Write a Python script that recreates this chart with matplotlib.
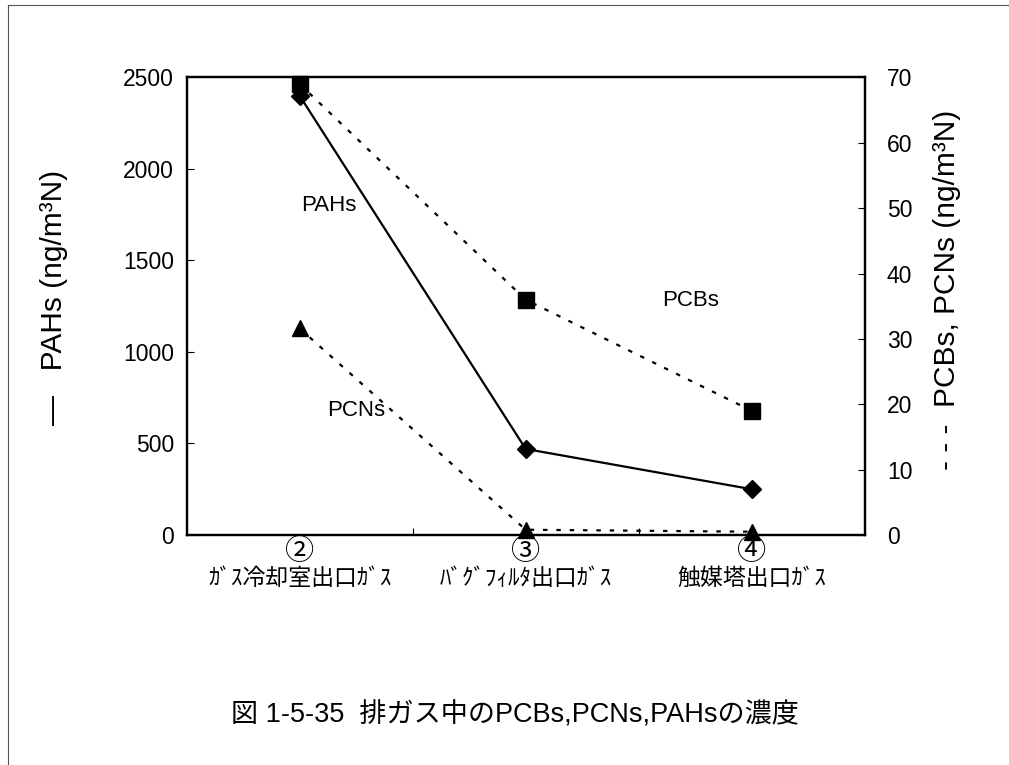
import numpy as np
import matplotlib
matplotlib.use('Agg')
import matplotlib.pyplot as plt
from matplotlib.lines import Line2D
from matplotlib.transforms import blended_transform_factory

plt.rcParams['font.family'] = ['Liberation Sans', 'Noto Sans CJK JP', 'DejaVu Sans']

# data
site_no = ['②', '③', '④']
sites = ['ｶﾞｽ冷却室出口ｶﾞｽ', 'ﾊﾞｸﾞﾌｨﾙﾀ出口ｶﾞｽ', '触媒塔出口ｶﾞｽ']
pahs = [2400, 470, 250]      # left axis
pcbs = [69, 36, 19]          # right axis
pcns = [31.6, 0.8, 0.5]      # right axis

fig = plt.figure(figsize=(10.09, 7.65), dpi=100)
ax = fig.add_axes([0.185, 0.3007, 0.672, 0.598])
ax2 = ax.twinx()

x = np.arange(len(sites)) + 0.5

ax.plot(x, pahs, color='black', lw=1.6, marker='D', markersize=9, zorder=3)
ax2.plot(x, pcbs, color='black', lw=1.6, ls=(0, (2, 4)), marker='s', markersize=12,
         clip_on=False, zorder=3)
ax2.plot(x, pcns, color='black', lw=1.6, ls=(0, (2, 4)), marker='^', markersize=12,
         clip_on=False, zorder=3)

ax.set_xlim(0, 3)
ax.set_ylim(0, 2500)
ax2.set_ylim(0, 70)
ax.set_yticks(np.arange(0, 2501, 500))
ax2.set_yticks(np.arange(0, 71, 10))

# category boundaries as inward major ticks, labels on minor ticks
ax.set_xticks([1, 2])
ax.set_xticklabels([])
ax.set_xticks(x, minor=True)
ax.set_xticklabels(sites, minor=True, fontsize=16.5,
                   family=['Noto Sans CJK JP', 'DejaVu Sans'])
ax.tick_params(axis='x', which='minor', length=0, pad=23)
ax.tick_params(axis='x', which='major', direction='in', length=5)
ax.tick_params(axis='y', direction='in', length=5, labelsize=16.5, pad=9)
ax2.tick_params(axis='y', direction='in', length=5, labelsize=16.5, pad=16)

# circled site numbers above the names
tr = blended_transform_factory(ax.transData, ax.transAxes)
for xi, n in zip(x, site_no):
    ax.text(xi, -0.038, n, transform=tr, fontsize=21, ha='center', va='center',
            family=['Noto Sans CJK JP', 'DejaVu Sans'])

for a in (ax, ax2):
    for s in a.spines.values():
        s.set_linewidth(1.6)

ax.set_ylabel('—   PAHs (ng/m³N)', fontsize=21.5)
ax.yaxis.set_label_coords(-0.175, 0.52)
ax2.set_ylabel('- - -  PCBs, PCNs (ng/m³N)', fontsize=21.5, rotation=90)
ax2.yaxis.set_label_coords(1.1, 0.535)

ax.text(0.63, 1800, 'PAHs', fontsize=16, ha='center', va='center')
ax.text(2.23, 1280, 'PCBs', fontsize=16, ha='center', va='center')
ax.text(0.75, 680, 'PCNs', fontsize=16, ha='center', va='center')

fig.text(0.51, 0.065, '図 1-5-35  排ガス中のPCBs,PCNs,PAHsの濃度', fontsize=19.5,
         ha='center', va='center')

# scanned page frame (top and left edge)
fig.add_artist(Line2D([0.008, 1.0], [0.994, 0.994], color='#555555', lw=0.8,
                      transform=fig.transFigure))
fig.add_artist(Line2D([0.008, 0.008], [0.0, 0.994], color='#555555', lw=0.8,
                      transform=fig.transFigure))

fig.savefig('out.png', dpi=100)
